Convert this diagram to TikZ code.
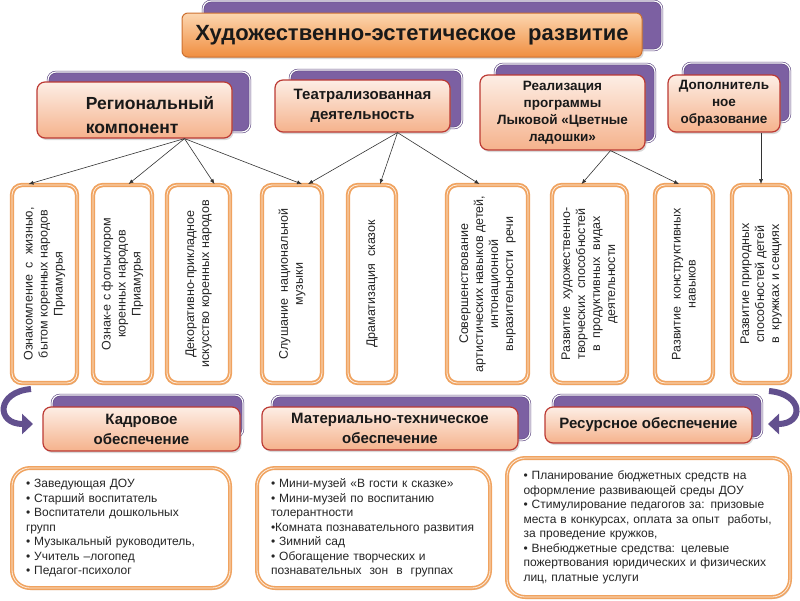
\documentclass[tikz,border=0pt]{standalone}
\usepackage{fontspec}
\setmainfont{Liberation Sans}
\usetikzlibrary{positioning, arrows.meta, calc, shadows}

\definecolor{lilac}{RGB}{124,96,162}
\definecolor{lilacdark}{RGB}{92,70,128}
\definecolor{peach}{RGB}{253,238,229}
\definecolor{salmon}{RGB}{245,178,140}
\definecolor{brick}{RGB}{188,58,52}
\definecolor{tangerine}{RGB}{240,163,96}
\definecolor{titletop}{RGB}{252,214,176}
\definecolor{titlebot}{RGB}{240,142,64}
\definecolor{titleedge}{RGB}{205,112,48}
\definecolor{swoosh}{RGB}{98,80,142}

\tikzset{
  back/.style={rounded corners=8pt, fill=lilac, draw=lilacdark, double=white, double distance=1.2pt, line width=0.6pt},
  shade/.style={drop shadow={opacity=0.3, shadow xshift=1.5pt, shadow yshift=-2pt}},
  title/.style={rounded corners=6pt, top color=titletop, bottom color=titlebot, draw=titleedge, line width=1pt, shade,
    font=\bfseries\fontsize{22}{26}\selectfont, text=black!90, inner sep=0pt},
  head/.style={rounded corners=8pt, top color=peach, bottom color=salmon, draw=brick, line width=1.2pt, shade,
    align=center, text=black!90, inner sep=0pt},
  headtext/.style={inner sep=0pt, text=black!90},
  vbox/.style={rounded corners=10pt, fill=white, draw=tangerine, double=white!80!tangerine, double distance=0.8pt,
    line width=1.8pt, shade, minimum height=198},
  vtext/.style={rotate=90, align=center, inner sep=0pt, text=black!85, font=\fontsize{12.5}{15}\selectfont},
  listbox/.style={rounded corners=18pt, fill=white, draw=tangerine, double=white!80!tangerine, double distance=0.8pt,
    line width=1.6pt, shade, align=left, inner xsep=14pt, text=black!85, font=\fontsize{12}{14.5}\selectfont},
  arrow/.style={-{Latex[length=5pt, width=4pt]}, draw=black!80, line width=0.6pt},
  swirl/.style={swoosh, line width=6pt, -{Triangle[length=11pt, width=20pt]}}
}

\begin{document}
\begin{tikzpicture}[x=1pt, y=-1pt]
\useasboundingbox (0,0) rectangle (800,600);

% Подложки
\draw[back] (203,1) rectangle (662,50);
\draw[back] (48,72) rectangle (250,132);
\draw[back] (290,70) rectangle (462,128);
\draw[back] (495,64) rectangle (655,142);
\draw[back] (683,63) rectangle (790,122);
\draw[back] (52,395) rectangle (243,437);
\draw[back] (272,396) rectangle (530,440);
\draw[back] (553,395) rectangle (762,438);

% Заголовок
\node[title, minimum width=460, minimum height=44] (title) at (412,35) {Художественно-эстетическое~ развитие};

% Направления
\node[head, minimum width=195, minimum height=56] (reg) at (134.5,110) {};
\node[headtext, align=left, font=\bfseries\fontsize{17.5}{24}\selectfont] (regt) at (150,115) {Региональный\\компонент};
\node[head, minimum width=175, minimum height=52, font=\bfseries\fontsize{15}{20}\selectfont] (thr) at (362.5,106) {Театрализованная\\деятельность};
\node[head, minimum width=165, minimum height=75, font=\bfseries\fontsize{13.5}{17}\selectfont] (lyk) at (562.5,112.5) {Реализация\\программы\\Лыковой «Цветные\\ладошки»};
\node[head, minimum width=112, minimum height=57, font=\bfseries\fontsize{13.5}{17}\selectfont] (dop) at (724,103.5) {Дополнитель\\ное\\образование};

% Формы работы
\foreach \n/\x/\w/\t in {
  b1/44.5/65/{Ознакомление~ с~ жизнью,\\бытом коренных народов\\Приамурья},
  b2/122.5/59/{Ознак-е с фольклором\\коренных народов\\Приамурья},
  b3/198.5/63/{Декоративно-прикладное\\искусство коренных народов},
  b4/292/60/{Слушание~ национальной\\музыки},
  b5/372/48/{Драматизация~ сказок},
  b6/487.5/81/{Совершенствование\\артистических навыков детей,\\интонационной\\выразительности~ речи},
  b7/589.5/75/{Развитие~ художественно-\\творческих~ способностей\\в~ продуктивных~ видах\\деятельности},
  b8/684/58/{Развитие~ конструктивных\\навыков},
  b9/761/58/{Развитие природных\\способностей детей\\в~ кружках и секциях}}{
  \node[vbox, minimum width=\w] (\n) at (\x,284) {};
  \node[vtext] (t\n) at (\n) {\t};
}

\foreach \s/\o/\t/\d in {reg/50/b1/-16, reg/50/b2/6, reg/50/b3/16, reg/50/b4/10,
  thr/35/b4/16, thr/35/b5/8, thr/35/b6/-8, lyk/48/b7/-8, lyk/48/b8/-5, dop/37/b9/0}
  \draw[arrow] ($(\s.south)+(\o,0)$) -- ($(\t.north)+(\d,0)$);

% Обеспечение
\node[head, minimum width=197, minimum height=44, font=\bfseries\fontsize{15}{20}\selectfont] (kad) at (141.5,429) {Кадровое\\обеспечение};
\node[head, minimum width=256, minimum height=43, font=\bfseries\fontsize{15}{20}\selectfont] (mat) at (390,428.5) {Материально-техническое\\обеспечение};
\node[head, minimum width=207, minimum height=36, font=\bfseries\fontsize{15}{20}\selectfont] (res) at (648.5,425) {Ресурсное обеспечение};

\draw[swirl] (31,389) .. controls (-4,392) and (-4,424) .. (33,424);
\draw[swirl] (769,391) .. controls (804,394) and (804,424) .. (768,424);

% Списки
\node[listbox, minimum width=218, minimum height=120, text width=190] (kadl) at (121,528) {%
• Заведующая ДОУ\\
• Старший воспитатель\\
• Воспитатели дошкольных\\
групп\\
• Музыкальный руководитель,\\
• Учитель –логопед\\
• Педагог-психолог};
\node[listbox, minimum width=233, minimum height=120, text width=205] (matl) at (373.5,528) {%
• Мини-музей «В гости к сказке»\\
• Мини-музей по воспитанию\\
толерантности\\
•Комната познавательного развития\\
• Зимний сад\\
• Обогащение творческих и\\
познавательных~ зон~ в~ группах};
\node[listbox, minimum width=283, minimum height=139, text width=250, inner xsep=16pt] (resl) at (648.5,527.5) {%
• Планирование бюджетных средств на\\
оформление развивающей среды ДОУ\\
• Стимулирование педагогов за: призовые\\
места в конкурсах, оплата за опыт~ работы,\\
за проведение кружков,\\
• Внебюджетные средства: целевые\\
пожертвования юридических и физических\\
лиц, платные услуги};

\end{tikzpicture}
\end{document}
